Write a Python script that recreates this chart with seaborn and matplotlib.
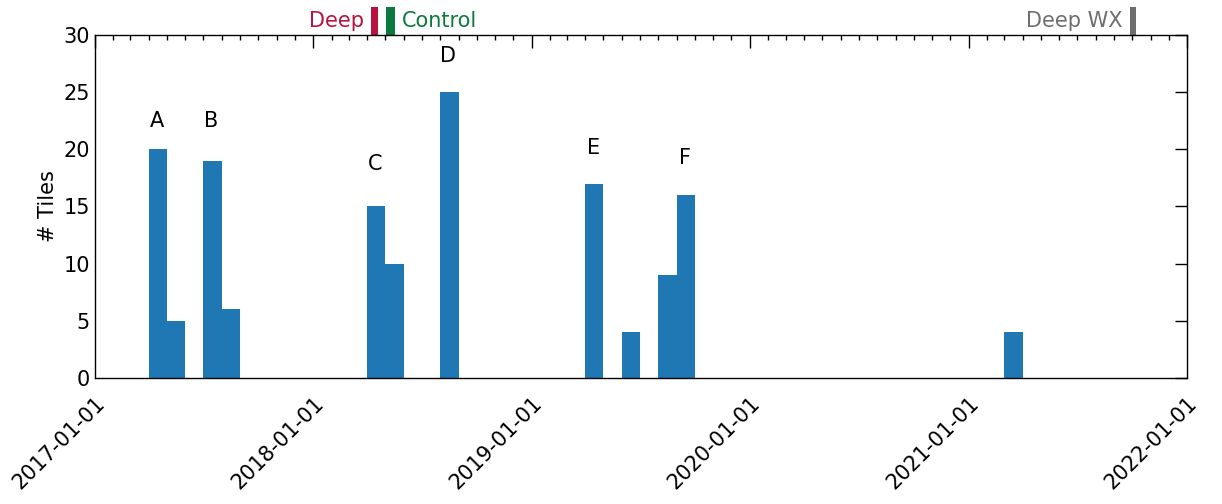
import matplotlib
matplotlib.use("Agg")
import matplotlib.pyplot as plt
import matplotlib.dates as mdates
import matplotlib.transforms as mtransforms
import numpy as np
import pandas as pd
import seaborn as sns

# Monthly tile counts
months = ["2017-04", "2017-05", "2017-07", "2017-08", "2018-04", "2018-05",
          "2018-08", "2019-04", "2019-06", "2019-08", "2019-09", "2021-03"]
tiles = [20, 5, 19, 6, 15, 10, 25, 17, 4, 9, 16, 4]

# Campaign labels above groups of bars
group_labels = ["A", "B", "C", "D", "E", "F"]
group_months = ["2017-04", "2017-07", "2018-04", "2018-08", "2019-04", "2019-09"]
group_heights = [22.5, 22.5, 18.7, 28.2, 20.1, 19.2]

# Survey markers drawn above the frame
survey_names = ["Deep", "Control", "Deep WX"]
survey_start = ["2018-04-07", "2018-05-02", "2021-09-27"]
survey_end = ["2018-04-20", "2018-05-17", "2021-10-07"]
survey_colors = ["#b8123e", "#0b7a3e", "#6e6e6e"]
survey_side = ["left", "right", "left"]

sns.set_style("white")
plt.rcParams["font.family"] = ["DejaVu Sans"]
plt.rcParams["text.color"] = "black"
plt.rcParams["axes.labelcolor"] = "black"

fig = plt.figure(figsize=(12.22, 5.04), dpi=100)
ax = fig.add_axes([0.0777, 0.25, 0.8937, 0.6806])

# one bin per calendar month
edges = [float(v) for v in
         mdates.date2num(pd.date_range("2017-01-01", "2022-01-01", freq="MS"))]
mid = mdates.date2num(pd.to_datetime(months) + pd.Timedelta(days=14))
df = pd.DataFrame({"date": mid, "tiles": tiles})
sns.histplot(data=df, x="date", weights="tiles", bins=edges, ax=ax,
             color="#1f77b4", alpha=1.0, linewidth=0, element="bars")

ax.set_xlim(mdates.date2num(pd.Timestamp("2017-01-01")),
            mdates.date2num(pd.Timestamp("2022-01-01")))
ax.set_ylim(0, 30)
ax.set_yticks(np.arange(0, 31, 5))
ax.xaxis.set_major_locator(mdates.YearLocator())
ax.xaxis.set_minor_locator(mdates.MonthLocator())
ax.xaxis.set_major_formatter(mdates.DateFormatter("%Y-%m-%d"))
ax.set_xlabel("")
ax.set_ylabel("# Tiles", fontsize=15)

for s in ax.spines.values():
    s.set_visible(True)
    s.set_linewidth(1.0)
    s.set_color("black")
ax.tick_params(axis="both", which="both", direction="in", top=True, right=True,
               colors="black", labelsize=15)
ax.tick_params(axis="both", which="major", length=9, width=1.0)
ax.tick_params(axis="x", which="minor", length=3.5, width=1.0)
ax.tick_params(axis="x", which="major", pad=11)
plt.setp(ax.get_xticklabels(), rotation=45, ha="right", rotation_mode="anchor")

# group letters
for lab, m, h in zip(group_labels, group_months, group_heights):
    xc = mdates.date2num(pd.Timestamp(m) + pd.Timedelta(days=14))
    ax.text(xc, h, lab, ha="center", va="center", fontsize=15, color="black")

# survey markers above the axes
trans = mtransforms.blended_transform_factory(ax.transData, ax.transAxes)
for name, s0, s1, c, side in zip(survey_names, survey_start, survey_end,
                                 survey_colors, survey_side):
    x0 = mdates.date2num(pd.Timestamp(s0))
    x1 = mdates.date2num(pd.Timestamp(s1))
    ax.axvspan(x0, x1, ymin=1.0, ymax=1.082, color=c, clip_on=False, lw=0)
    if side == "left":
        ax.annotate(name, xy=(x0, 1.04), xycoords=trans, xytext=(-5, 0),
                    textcoords="offset points", ha="right", va="center",
                    color=c, fontsize=15)
    else:
        ax.annotate(name, xy=(x1, 1.04), xycoords=trans, xytext=(5, 0),
                    textcoords="offset points", ha="left", va="center",
                    color=c, fontsize=15)

fig.savefig("out.png", dpi=100)
